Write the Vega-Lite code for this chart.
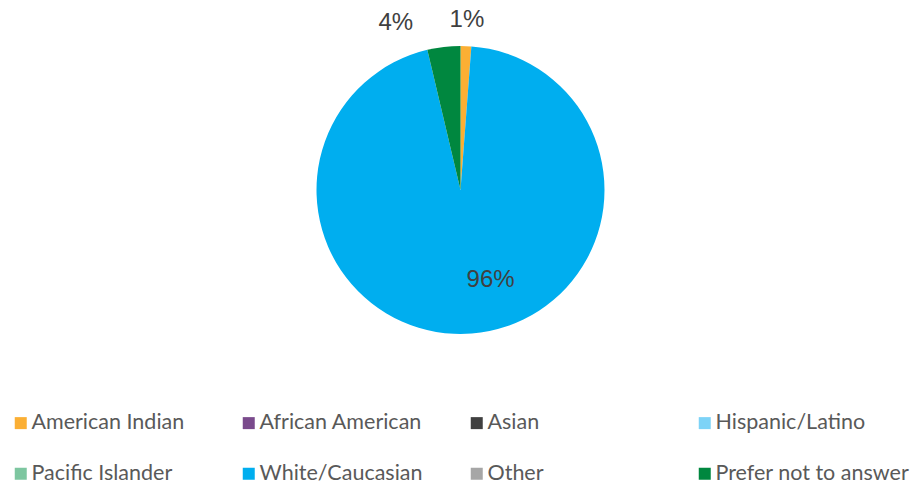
{
  "$schema": "https://vega.github.io/schema/vega-lite/v6.json",
  "width": 921,
  "height": 380,
  "autosize": {"type": "none"},
  "padding": {"left": 0, "top": 0, "right": 0, "bottom": 104},
  "background": "white",
  "config": {"view": {"stroke": null}},
  "data": {
    "values": [
      {"idx": 1, "group": "American Indian", "value": 1.2, "label": "1%"},
      {"idx": 2, "group": "African American", "value": 0, "label": ""},
      {"idx": 3, "group": "Asian", "value": 0, "label": ""},
      {"idx": 4, "group": "Hispanic/Latino", "value": 0, "label": ""},
      {"idx": 5, "group": "Pacific Islander", "value": 0, "label": ""},
      {"idx": 6, "group": "White/Caucasian", "value": 95.1, "label": "96%"},
      {"idx": 7, "group": "Other", "value": 0, "label": ""},
      {"idx": 8, "group": "Prefer not to answer", "value": 3.7, "label": "4%"}
    ]
  },
  "encoding": {
    "theta": {"field": "value", "type": "quantitative", "stack": true},
    "order": {"field": "idx", "type": "quantitative", "sort": "ascending"}
  },
  "layer": [
    {
      "mark": {"type": "arc", "outerRadius": 144},
      "encoding": {
        "color": {
          "field": "group",
          "type": "nominal",
          "sort": null,
          "scale": {
            "domain": ["American Indian", "African American", "Asian", "Hispanic/Latino", "Pacific Islander", "White/Caucasian", "Other", "Prefer not to answer"],
            "range": ["#FBAF34", "#7A4A8C", "#404040", "#7DD3F7", "#7DC6A0", "#00AEEF", "#A6A6A6", "#00873F"]
          },
          "legend": {
            "title": null,
            "orient": "none",
            "legendX": 10,
            "legendY": 412,
            "direction": "horizontal",
            "columns": 4,
            "gridAlign": "all",
            "columnPadding": 12,
            "rowPadding": 28,
            "padding": 0,
            "symbolType": "square",
            "symbolSize": 144,
            "symbolStrokeWidth": 0,
            "symbolOffset": 0,
            "labelOffset": 0,
            "labelFont": "Lato",
            "labelFontSize": 21.5,
            "labelColor": "#595959",
            "labelLimit": 400
          }
        }
      }
    },
    {
      "mark": {"type": "text", "radius": 170, "font": "Liberation Sans", "fontSize": 24, "color": "#404040", "dx": 0, "dy": 0},
      "encoding": {
        "text": {"condition": {"test": "datum.group === 'American Indian'", "field": "label"}, "value": ""}
      }
    },
    {
      "mark": {"type": "text", "radius": 170, "font": "Liberation Sans", "fontSize": 24, "color": "#404040", "dx": -45, "dy": 2},
      "encoding": {
        "text": {"condition": {"test": "datum.group === 'Prefer not to answer'", "field": "label"}, "value": ""}
      }
    },
    {
      "mark": {"type": "text", "radius": 90, "font": "Liberation Sans", "fontSize": 24, "color": "#404040", "dx": 23, "dy": 0},
      "encoding": {
        "text": {"condition": {"test": "datum.group === 'White/Caucasian'", "field": "label"}, "value": ""}
      }
    }
  ]
}
